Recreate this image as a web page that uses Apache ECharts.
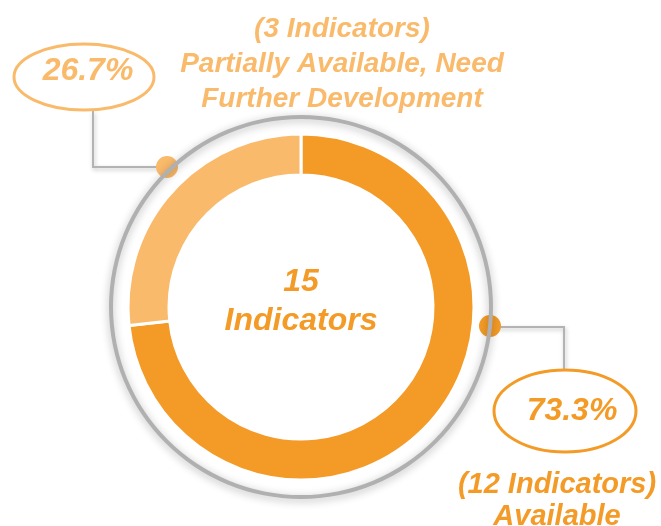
<!DOCTYPE html>
<html>
<head>
<meta charset="utf-8">
<title>Indicators</title>
<script src="https://cdn.jsdelivr.net/npm/echarts@6/dist/echarts.min.js"></script>
<style>
  html, body { margin: 0; padding: 0; background: #fff; }
  #chart { width: 661px; height: 526px; }
</style>
</head>
<body>
<div id="chart"></div>
<script>
// data
const categories = ['Available', 'Partially Available, Need Further Development']
const shareValues = [73.3, 26.7]
const shares = ['73.3%', '26.7%']
const sliceColors = ['#F49B27', '#FABA6B']
const totalLabel = ['15', 'Indicators']
const notes = [['(12 Indicators)', 'Available'], ['(3 Indicators)', 'Partially Available, Need', 'Further Development']]

const chart = echarts.init(document.getElementById('chart'))

const cx = 301
const cy = 307
const font = '"Liberation Sans", Arial, sans-serif'

function noteText(lines, x, y, color, size, lh) {
  return {
    type: 'text',
    x: x,
    y: y,
    style: {
      text: lines.join('\n'),
      fill: color,
      font: 'italic bold ' + size + 'px ' + font,
      lineHeight: lh,
      align: 'center',
      verticalAlign: 'middle'
    }
  }
}

const lineStyle = {
  stroke: '#b3b3b3',
  lineWidth: 2,
  shadowBlur: 4,
  shadowColor: 'rgba(0,0,0,0.25)',
  shadowOffsetX: 1,
  shadowOffsetY: 2
}

chart.setOption({
  animation: false,
  series: [
    {
      type: 'pie',
      silent: true,
      center: [cx, cy],
      radius: [188, 192],
      startAngle: 90,
      label: { show: false },
      itemStyle: {
        color: '#b0b0b0',
        shadowBlur: 8,
        shadowColor: 'rgba(0,0,0,0.3)',
        shadowOffsetY: 2
      },
      data: [{ value: 1, name: 'ring' }]
    },
    {
      type: 'pie',
      center: [cx, cy],
      radius: [132, 173],
      startAngle: 90,
      clockwise: true,
      label: { show: false },
      itemStyle: { borderColor: '#fff', borderWidth: 3 },
      data: categories.map((c, i) => ({
        name: c,
        value: shareValues[i],
        itemStyle: { color: sliceColors[i] }
      }))
    }
  ],
  graphic: [
    // centre text
    noteText(totalLabel, cx, 302, '#F49B27', 32, 39),

    // light slice call-out
    { type: 'polyline', shape: { points: [[165, 167], [93, 167], [93, 111]] }, style: lineStyle },
    { type: 'circle', shape: { cx: 167, cy: 167, r: 11 }, style: { fill: '#FABA6B' } },
    { type: 'ellipse', shape: { cx: 84, cy: 77, rx: 70, ry: 33 }, style: { fill: '#fff', stroke: '#FABA6B', lineWidth: 3 } },
    noteText([shares[1]], 88, 71, '#FABA6B', 32, 34),
    noteText(notes[1], 342, 64, '#FABA6B', 28, 35),

    // dark slice call-out
    { type: 'polyline', shape: { points: [[492, 327], [564, 327], [564, 370]] }, style: lineStyle },
    { type: 'circle', shape: { cx: 490, cy: 326, r: 11 }, style: { fill: '#F49B27' } },
    { type: 'ellipse', shape: { cx: 565, cy: 411, rx: 71, ry: 41 }, style: { fill: '#fff', stroke: '#F49B27', lineWidth: 3 } },
    noteText([shares[0]], 572, 411, '#F49B27', 32, 34),
    noteText(notes[0], 557, 501, '#F49B27', 29, 32)
  ]
})
</script>
</body>
</html>
